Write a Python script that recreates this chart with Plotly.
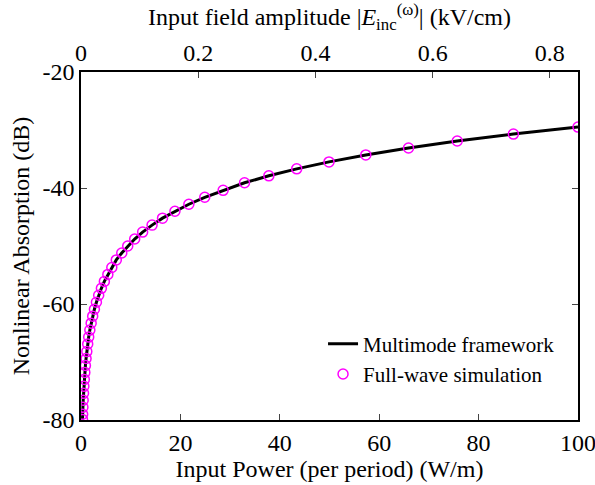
import plotly.graph_objects as go

# Data
power_wm = [100, 87, 75.7, 65.9, 57.3, 49.9, 43.4, 37.8, 32.9, 28.6, 24.9, 21.7,
            18.9, 16.4, 14.3, 12.4, 10.8, 9.4, 8.2, 7.1, 6.2, 5.4, 4.7, 4.1,
            3.56, 3.1, 2.7, 2.35, 2.04, 1.78, 1.55, 1.35, 1.17, 1.02, 0.89,
            0.77, 0.67, 0.58, 0.51, 0.44, 0.385, 0.335, 0.3]
absorption_db = [-29.5, -30.7, -31.9, -33.1, -34.3, -35.5, -36.7, -37.9, -39.1,
                 -40.4, -41.6, -42.8, -44.0, -45.2, -46.4, -47.6, -48.8, -50.0,
                 -51.2, -52.4, -53.7, -54.9, -56.1, -57.3, -58.5, -59.7, -60.9,
                 -62.1, -63.3, -64.5, -65.7, -66.9, -68.2, -69.4, -70.6, -71.8,
                 -73.0, -74.2, -75.4, -76.6, -77.8, -79.0, -79.9]

x_ticks = [0, 20, 40, 60, 80, 100]
y_ticks = [-80, -60, -40, -20]
y_ticktext = ["-80", "-60", "-40", "-20"]
top_ticks = [0, 0.2, 0.4, 0.6, 0.8]
top_ticktext = ["0", "0.2", "0.4", "0.6", "0.8"]
top_range = [0, 0.848]

FONT = "Liberation Serif"

fig = go.Figure()
fig.add_trace(go.Scatter(x=power_wm, y=absorption_db, mode="lines",
                         line=dict(color="black", width=3),
                         name="Multimode framework"))
fig.add_trace(go.Scatter(x=power_wm, y=absorption_db, mode="markers",
                         marker=dict(symbol="circle-open", color="#FF00FF", size=10,
                                     line=dict(width=1.5, color="#FF00FF")),
                         name="Full-wave simulation"))
# invisible trace to anchor top axis
fig.add_trace(go.Scatter(x=top_range, y=[None, None], xaxis="x2", mode="lines",
                         showlegend=False, hoverinfo="skip"))

fig.update_layout(
    width=595, height=485,
    margin=dict(l=81, r=17, t=72, b=65),
    paper_bgcolor="white", plot_bgcolor="white",
    font=dict(family=FONT, size=24, color="black"),
    showlegend=True,
    legend=dict(x=0.487, y=0.277, xanchor="left", yanchor="top",
                bgcolor="rgba(0,0,0,0)", font=dict(size=21, family=FONT),
                tracegroupgap=0),
    xaxis=dict(range=[0, 100], tickvals=x_ticks, ticks="inside", ticklen=6,
               showline=True, linecolor="black", linewidth=1.5, mirror=False,
               showgrid=False, zeroline=False, ticklabeloverflow="allow",
               automargin=False,
               title=dict(text="Input Power (per period) (W/m)", standoff=4,
                          font=dict(size=24, family=FONT)),
               tickfont=dict(size=24, family=FONT)),
    xaxis2=dict(range=top_range, overlaying="x", side="top",
                tickvals=top_ticks, ticktext=top_ticktext, ticks="inside", ticklen=6,
                showline=True, linecolor="black", linewidth=1.5,
                showgrid=False, zeroline=False, ticklabeloverflow="allow",
                title=dict(text="Input field amplitude |<i>E</i><sub>inc</sub><sup>(ω)</sup>| (kV/cm)",
                           standoff=10, font=dict(size=24, family=FONT)),
                tickfont=dict(size=24, family=FONT)),
    yaxis=dict(range=[-80, -20], tickvals=y_ticks, ticktext=y_ticktext,
               ticks="inside", ticklen=6, showline=True, linecolor="black",
               linewidth=1.5, mirror="ticks", showgrid=False, zeroline=False,
               ticklabeloverflow="allow",
               title=dict(text="Nonlinear Absorption (dB)", standoff=6,
                          font=dict(size=24, family=FONT)),
               tickfont=dict(size=24, family=FONT)),
)

fig.write_html("out.html")
